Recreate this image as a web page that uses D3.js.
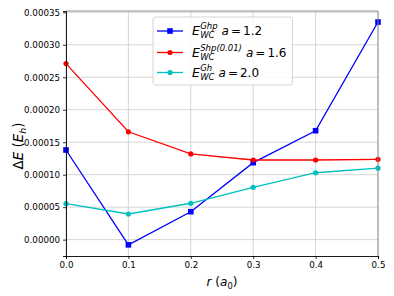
<!DOCTYPE html>
<html>
<head>
<meta charset="utf-8">
<script src="https://cdn.jsdelivr.net/npm/d3@7"></script>
<style>
body { margin: 0; background: #fff; }
text { font-family: "DejaVu Sans", sans-serif; }
</style>
</head>
<body>
<div id="chart-area"></div>
<script>
var rValues = [0.0, 0.1, 0.2, 0.3, 0.4, 0.5];
var ghp = [0.000138, -0.000008, 0.000043, 0.0001185, 0.0001677, 0.000335];
var shp = [0.000271, 0.000166, 0.000132, 0.0001226, 0.0001226, 0.0001237];
var gh = [0.0000554, 0.0000395, 0.000056, 0.0000806, 0.000103, 0.00011];
var xTicks = [0.0, 0.1, 0.2, 0.3, 0.4, 0.5];
var yTicks = [0, 0.00005, 0.0001, 0.00015, 0.0002, 0.00025, 0.0003, 0.00035];

var series = [
    {sup: "Ghp", label: "1.2", values: ghp, color: "#0000ff", marker: "square"},
    {sup: "Shp(0.01)", label: "1.6", values: shp, color: "#ff0000", marker: "circle"},
    {sup: "Gh", label: "2.0", values: gh, color: "#00bfbf", marker: "circle"}
];

var width = 394, height = 296;
var margin = {top: 11, right: 16, bottom: 40, left: 66};
var w = width - margin.left - margin.right;
var h = height - margin.top - margin.bottom;

var svg = d3.select("#chart-area").append("svg")
    .attr("width", width)
    .attr("height", height);

var g = svg.append("g")
    .attr("transform", "translate(" + margin.left + "," + margin.top + ")");

var x = d3.scaleLinear().domain([0, 0.5]).range([0, w]);
var y = d3.scaleLinear().domain([-0.0000252, 0.000352]).range([h, 0]);

// grid
g.selectAll(".xgrid").data(xTicks).enter().append("line")
    .attr("x1", d => x(d)).attr("x2", d => x(d))
    .attr("y1", 0).attr("y2", h)
    .attr("stroke", "#d0d0d0").attr("stroke-width", 0.9);
g.selectAll(".ygrid").data(yTicks).enter().append("line")
    .attr("x1", 0).attr("x2", w)
    .attr("y1", d => y(d)).attr("y2", d => y(d))
    .attr("stroke", "#d0d0d0").attr("stroke-width", 0.9);

// lines and markers
var line = d3.line()
    .x((d, i) => x(rValues[i]))
    .y(d => y(d));

series.forEach(s => {
    g.append("path")
        .attr("d", line(s.values))
        .attr("fill", "none")
        .attr("stroke", s.color)
        .attr("stroke-width", 1.3);
    if (s.marker == "square") {
        g.selectAll(null).data(s.values).enter().append("rect")
            .attr("x", (d, i) => x(rValues[i]) - 2.8)
            .attr("y", d => y(d) - 2.8)
            .attr("width", 5.6).attr("height", 5.6)
            .attr("fill", s.color);
    } else {
        g.selectAll(null).data(s.values).enter().append("circle")
            .attr("cx", (d, i) => x(rValues[i]))
            .attr("cy", d => y(d))
            .attr("r", 2.6)
            .attr("fill", s.color);
    }
});

// frame
g.append("line").attr("x1", 0).attr("x2", w).attr("y1", 0).attr("y2", 0)
    .attr("stroke", "#888").attr("stroke-width", 0.9);
g.append("line").attr("x1", w).attr("x2", w).attr("y1", 0).attr("y2", h)
    .attr("stroke", "#888").attr("stroke-width", 0.9);

// axes
var bottomAxis = d3.axisBottom(x).tickValues(xTicks).tickFormat(d3.format(".1f"))
    .tickSize(3).tickPadding(3);
var xa = g.append("g")
    .attr("transform", "translate(0," + h + ")")
    .call(bottomAxis);
var leftAxis = d3.axisLeft(y).tickValues(yTicks).tickFormat(d3.format(".5f"))
    .tickSize(3).tickPadding(3);
var ya = g.append("g").call(leftAxis);

[xa, ya].forEach(a => {
    a.select(".domain").attr("stroke", "#000").attr("stroke-width", 0.9);
    a.selectAll(".tick line").attr("stroke", "#000").attr("stroke-width", 0.8);
    a.selectAll("text").attr("font-size", "8.7px").attr("font-family", "DejaVu Sans").attr("fill", "#000");
});

// axis labels
var xl = svg.append("text")
    .attr("x", margin.left + w / 2)
    .attr("y", 286)
    .attr("text-anchor", "middle")
    .attr("font-size", "12px");
xl.append("tspan").attr("font-style", "italic").text("r");
xl.append("tspan").text(" (");
xl.append("tspan").attr("font-style", "italic").text("a");
xl.append("tspan").attr("font-size", "8.4px").attr("dy", 2.5).text("0");
xl.append("tspan").attr("dy", -2.5).text(")");

var yl = svg.append("text")
    .attr("transform", "translate(23,146) rotate(-90)")
    .attr("text-anchor", "middle")
    .attr("font-size", "13.5px");
yl.append("tspan").text("Δ");
yl.append("tspan").attr("font-style", "italic").text("E");
yl.append("tspan").text(" (");
yl.append("tspan").attr("font-style", "italic").text("E");
yl.append("tspan").attr("font-size", "9.5px").attr("font-style", "italic").attr("dy", 2.8).text("h");
yl.append("tspan").attr("dy", -2.8).text(")");

// legend
var lg = svg.append("g").attr("transform", "translate(153,17)");
var box = lg.append("rect")
    .attr("height", 68)
    .attr("rx", 2.5)
    .attr("fill", "#fff").attr("fill-opacity", 0.85)
    .attr("stroke", "#d0d0d0").attr("stroke-width", 0.9);

var rowY = [14, 35.5, 55.5];
var maxRight = 0;
series.forEach((s, i) => {
    var row = lg.append("g").attr("transform", "translate(0," + rowY[i] + ")");
    row.append("line").attr("x1", 4).attr("x2", 30).attr("y1", 0).attr("y2", 0)
        .attr("stroke", s.color).attr("stroke-width", 1.3);
    if (s.marker == "square") {
        row.append("rect").attr("x", 14.2).attr("y", -2.8).attr("width", 5.6).attr("height", 5.6)
            .attr("fill", s.color);
    } else {
        row.append("circle").attr("cx", 17).attr("cy", 0).attr("r", 2.6).attr("fill", s.color);
    }
    var e = row.append("text").attr("x", 39).attr("y", 4.4)
        .attr("font-size", "12.5px").attr("font-style", "italic").text("E");
    var ex = 39 + e.node().getComputedTextLength() + 0.3;
    var sup = row.append("text").attr("x", ex).attr("y", -1.8)
        .attr("font-size", "8.5px").attr("font-style", "italic").text(s.sup);
    var sub = row.append("text").attr("x", ex).attr("y", 7.4)
        .attr("font-size", "8.5px").attr("font-style", "italic").text("WC");
    var ax = ex + Math.max(sup.node().getComputedTextLength(), sub.node().getComputedTextLength()) + 4;
    var t = row.append("text").attr("x", ax).attr("y", 4.4).attr("font-size", "12px");
    t.append("tspan").attr("font-style", "italic").text("a");
    t.append("tspan").attr("dx", 2).text("=");
    t.append("tspan").attr("dx", 2).text(s.label);
    maxRight = Math.max(maxRight, ax + t.node().getComputedTextLength() + 4);
});
box.attr("width", maxRight + 6);
</script>
</body>
</html>
